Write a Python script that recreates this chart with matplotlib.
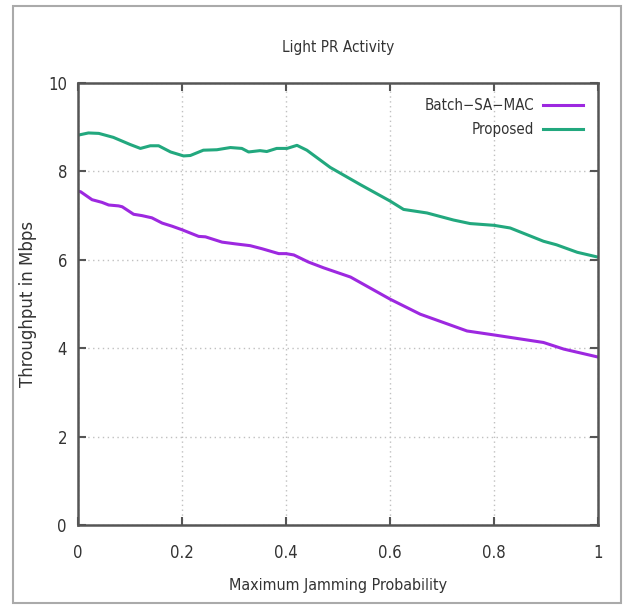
import numpy as np
import matplotlib
matplotlib.use("Agg")
import matplotlib.pyplot as plt
from matplotlib.patches import Rectangle

plt.rcParams['font.family'] = ['DejaVu Sans']
plt.rcParams['font.stretch'] = 'condensed'

# jamming probability vs throughput (Mbps)
p_batch = [0.0, 0.005, 0.027, 0.046, 0.059, 0.078, 0.085, 0.107, 0.123, 0.142,
           0.162, 0.181, 0.2, 0.232, 0.245, 0.277, 0.303, 0.331, 0.354, 0.386,
           0.4, 0.415, 0.443, 0.472, 0.524, 0.6, 0.658, 0.748, 0.8, 0.895,
           0.934, 1.0]
thr_batch = [7.55, 7.54, 7.36, 7.30, 7.24, 7.22, 7.20, 7.03, 7.00, 6.95,
             6.83, 6.76, 6.68, 6.53, 6.52, 6.40, 6.36, 6.32, 6.25, 6.14,
             6.14, 6.11, 5.95, 5.82, 5.61, 5.11, 4.77, 4.39, 4.30, 4.13,
             3.98, 3.80]

p_prop = [0.0, 0.02, 0.04, 0.068, 0.1, 0.12, 0.139, 0.155, 0.178, 0.203,
          0.216, 0.241, 0.267, 0.293, 0.315, 0.328, 0.35, 0.363, 0.382, 0.402,
          0.421, 0.44, 0.485, 0.543, 0.6, 0.626, 0.671, 0.722, 0.754, 0.8,
          0.831, 0.895, 0.92, 0.96, 1.0]
thr_prop = [8.82, 8.87, 8.86, 8.77, 8.61, 8.52, 8.58, 8.58, 8.44, 8.35,
            8.36, 8.48, 8.49, 8.54, 8.52, 8.44, 8.47, 8.45, 8.52, 8.52,
            8.59, 8.48, 8.09, 7.70, 7.33, 7.14, 7.06, 6.90, 6.82, 6.78,
            6.72, 6.42, 6.34, 6.17, 6.06]

x_ticks = [0, 0.2, 0.4, 0.6, 0.8, 1]
x_ticklabels = ['0', '0.2', '0.4', '0.6', '0.8', '1']
y_ticks = [0, 2, 4, 6, 8, 10]

txt = '#333333'

fig = plt.figure(figsize=(6.23, 6.05), dpi=100)
ax = fig.add_axes([0.1252, 0.1322, 0.8348, 0.7306])

ax.plot(p_batch, thr_batch, color='#9d28e0', lw=2.2, label='Batch\u2212SA\u2212MAC')
ax.plot(p_prop, thr_prop, color='#22a87e', lw=2.2, label='Proposed')

ax.set_xlim(0, 1)
ax.set_ylim(0, 10)
ax.set_xticks(x_ticks)
ax.set_xticklabels(x_ticklabels)
ax.set_yticks(y_ticks)
ax.grid(True, color='#c0c0c0', linestyle=(0, (1, 2.5)), lw=1.0)

ax.tick_params(direction='in', length=6, width=1.5, color='#555555',
               top=True, right=True, labelsize=12, labelcolor=txt)
ax.tick_params(axis='x', pad=14)
ax.tick_params(axis='y', pad=8)
for s in ax.spines.values():
    s.set_color('#555555')
    s.set_linewidth(1.8)

ax.set_title('Light PR Activity', fontsize=11, color=txt, pad=22)
ax.set_xlabel('Maximum Jamming Probability', fontsize=11.5, color=txt, labelpad=11)
ax.set_ylabel('Throughput in Mbps', fontsize=12, color=txt, labelpad=8,
              fontstretch='normal')

leg = ax.legend(loc='upper right', frameon=False, markerfirst=False,
                handlelength=2.7, fontsize=10.8, labelspacing=0.6,
                borderaxespad=0.6, handletextpad=0.55)
for t in leg.get_texts():
    t.set_color(txt)

# outer frame round the whole figure
fig.patches.append(Rectangle((13 / 623, 2 / 605), 608 / 623, 597 / 605,
                             transform=fig.transFigure, fill=False,
                             edgecolor='#aaaaaa', lw=1.5))

fig.savefig('out.png', dpi=100)
